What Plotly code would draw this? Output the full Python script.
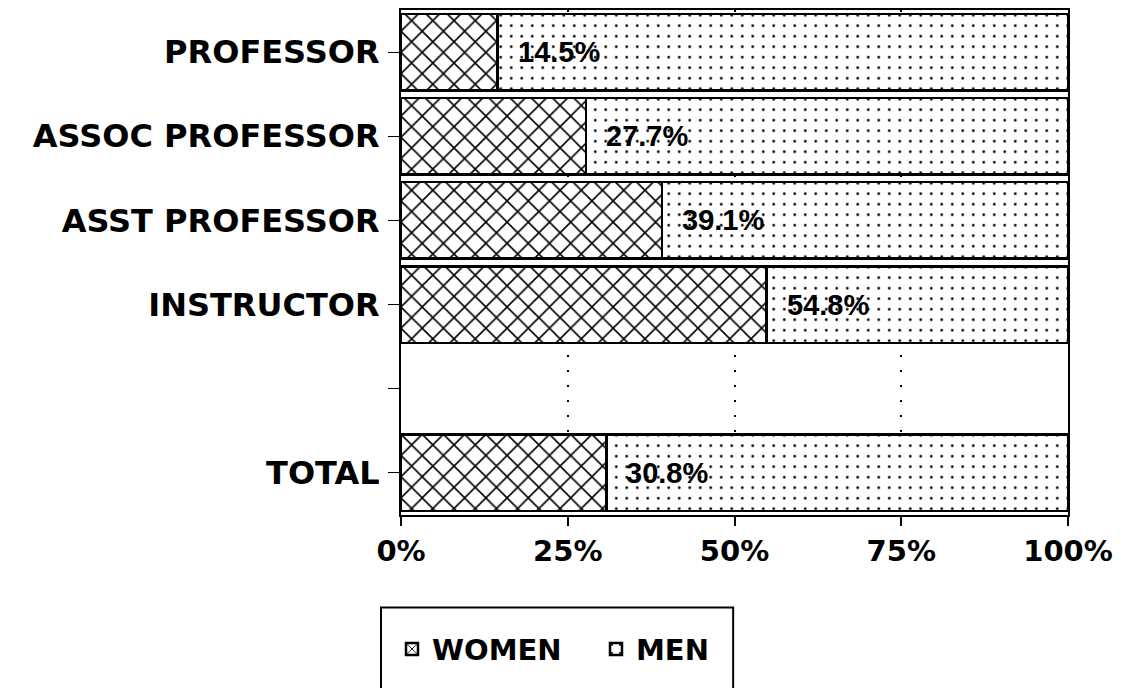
import plotly.graph_objects as go

categories = ["PROFESSOR", "ASSOC PROFESSOR", "ASST PROFESSOR", "INSTRUCTOR", " ", "TOTAL"]
bar_categories = ["PROFESSOR", "ASSOC PROFESSOR", "ASST PROFESSOR", "INSTRUCTOR", "TOTAL"]
women_pct = [14.5, 27.7, 39.1, 54.8, 30.8]
men_pct = [round(100 - v, 1) for v in women_pct]
x_tickvals = [0, 25, 50, 75, 100]
x_ticktext = ["0%", "25%", "50%", "75%", "100%"]

BOLD = dict(family="DejaVu Sans", color="black", weight="bold")

fig = go.Figure()
fig.add_trace(go.Bar(
    y=bar_categories, x=women_pct, orientation="h", name="WOMEN",
    marker=dict(color="white", line=dict(color="black", width=2.5),
                pattern=dict(shape="x", size=15, solidity=0.2,
                             fgcolor="black", bgcolor="white", fillmode="replace")),
))
fig.add_trace(go.Bar(
    y=bar_categories, x=men_pct, orientation="h", name="MEN",
    marker=dict(color="white", line=dict(color="black", width=2.5),
                pattern=dict(shape=".", size=10.5, solidity=0.05,
                             fgcolor="black", bgcolor="white", fillmode="replace")),
))

for cat, v in zip(bar_categories, women_pct):
    fig.add_annotation(x=v, y=cat, text=f"{v}%", showarrow=False,
                       xanchor="left", yanchor="middle", xshift=18,
                       font=dict(family="Liberation Sans", size=29, color="black", weight="bold"))

# legend frame
fig.add_shape(type="rect", xref="paper", yref="paper",
              x0=-0.03, x1=0.498, y0=-0.183, y1=-0.349,
              line=dict(color="black", width=2), fillcolor="rgba(0,0,0,0)")

fig.update_layout(
    width=1105, height=680,
    margin=dict(l=393, r=45, t=0, b=173),
    barmode="stack", bargap=0.09,
    plot_bgcolor="white", paper_bgcolor="white",
    showlegend=True,
    legend=dict(orientation="h", x=-0.0135, xanchor="left", y=-0.215, yanchor="top",
                borderwidth=0, bgcolor="rgba(0,0,0,0)", entrywidth=159,
                font=dict(size=29, **BOLD), itemwidth=30, traceorder="normal"),
)
fig.update_xaxes(
    range=[0, 100], tickvals=x_tickvals, ticktext=x_ticktext,
    showgrid=True, gridcolor="black", gridwidth=2, griddash="2px,13px",
    zeroline=False, showline=True, linecolor="black", linewidth=2, mirror=True,
    ticks="outside", ticklen=9, tickwidth=2, tickcolor="black",
    ticklabelstandoff=0, tickfont=dict(size=29, **BOLD),
)
fig.update_yaxes(
    categoryorder="array", categoryarray=categories[::-1], type="category",
    range=[-0.5, 5.5],
    showgrid=False, zeroline=False, showline=True, linecolor="black", linewidth=2, mirror=True,
    ticks="outside", ticklen=11, tickwidth=1, tickcolor="black",
    ticklabelstandoff=2, tickfont=dict(size=32, **BOLD),
)

fig.write_html("out.html")
